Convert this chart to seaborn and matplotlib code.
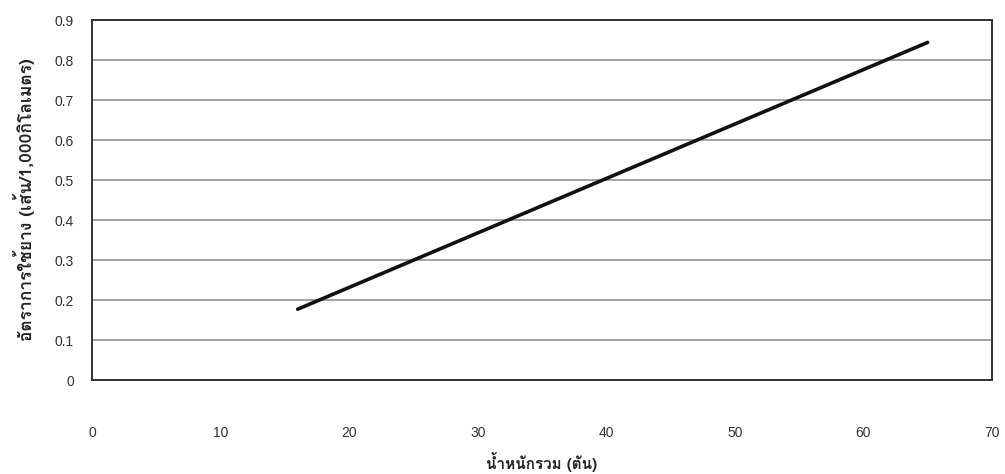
import matplotlib
matplotlib.use("Agg")
import matplotlib.pyplot as plt
import seaborn as sns
import pandas as pd

weight_ton = [16, 65]
tire_rate = [0.177, 0.844]
x_ticks = [0, 10, 20, 30, 40, 50, 60, 70]
y_ticks = [0, 0.1, 0.2, 0.3, 0.4, 0.5, 0.6, 0.7, 0.8, 0.9]
y_tick_labels = ["0", "0.1", "0.2", "0.3", "0.4", "0.5", "0.6", "0.7", "0.8", "0.9"]
x_label = "น้ำหนักรวม (ตัน)"
y_label = "อัตราการใช้ยาง (เส้น/1,000กิโลเมตร)"

sns.set_theme(style="white")
plt.rcParams['font.family'] = ['Liberation Sans', 'DejaVu Sans']
thai_family = ['Loma', 'Noto Sans Thai Looped', 'DejaVu Sans']

df = pd.DataFrame({"x": weight_ton, "y": tire_rate})

fig = plt.figure(figsize=(10.05, 4.74), dpi=100)
ax = fig.add_axes([0.0915, 0.1983, 0.8955, 0.7595])
sns.lineplot(data=df, x="x", y="y", ax=ax, color="#111111", linewidth=2.6)

ax.set_xlim(0, 70)
ax.set_ylim(0, 0.9)
ax.set_xticks(x_ticks)
ax.set_yticks(y_ticks)
ax.set_yticklabels(y_tick_labels)
ax.yaxis.grid(True, color="#8a8a8a", linewidth=1.1)
ax.xaxis.grid(False)
for s in ax.spines.values():
    s.set_color("#333333")
    s.set_linewidth(1.4)
ax.tick_params(axis="x", direction="out", length=5, width=1, color="#555555",
               pad=28, labelsize=10, labelcolor="#333333")
ax.tick_params(axis="y", direction="out", length=5, width=1, color="#555555",
               pad=8, labelsize=10, labelcolor="#333333")
ax.set_xlabel(x_label, fontsize=11, fontweight="bold", labelpad=9,
              color="#222222", family=thai_family)
ax.set_ylabel(y_label, fontsize=12.5, fontweight="bold", labelpad=14,
              color="#222222", family=thai_family)
fig.savefig("out.png", dpi=100)
